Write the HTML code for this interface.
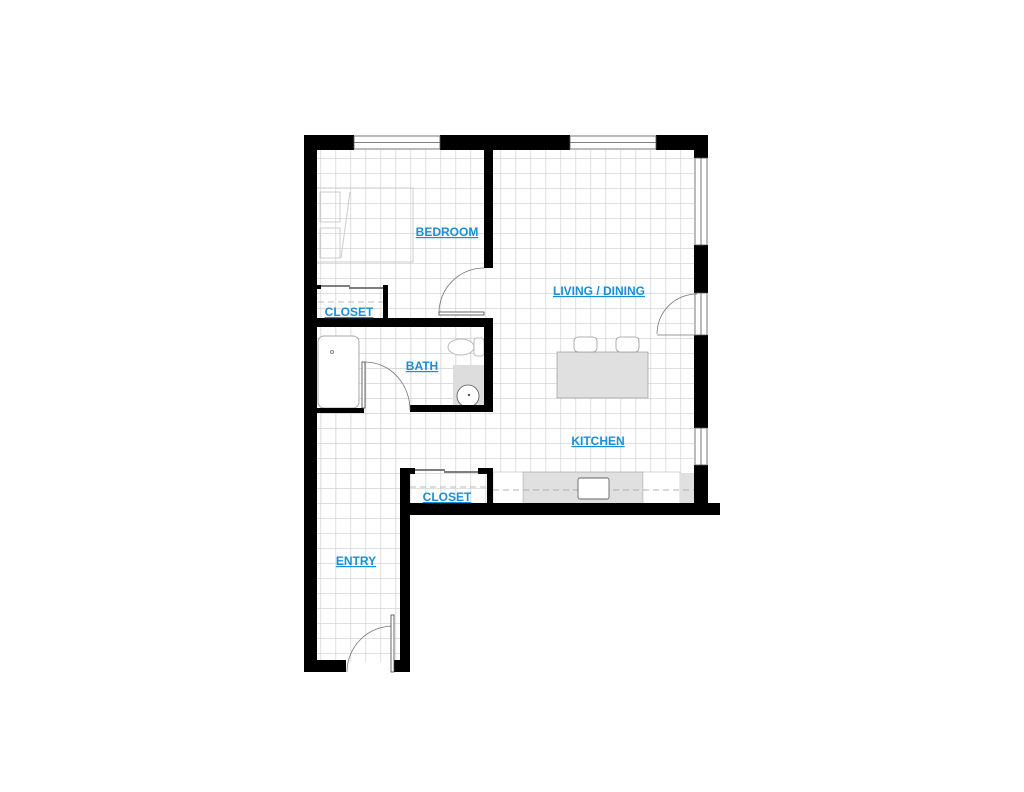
<!DOCTYPE html>
<html><head><style>
html,body{margin:0;padding:0;background:#fff;}
svg{display:block;}
.lbl{font-family:"Liberation Sans",sans-serif;font-weight:bold;font-size:12px;fill:#1a8fd6;text-anchor:middle;text-decoration:underline;}
</style></head><body>
<svg width="1024" height="792" viewBox="0 0 1024 792" xmlns="http://www.w3.org/2000/svg">
<defs>
<pattern id="g" x="320.5" y="8" width="15" height="15" patternUnits="userSpaceOnUse">
<path d="M0 0V15M0 0H15" stroke="#cdcdcd" stroke-width="1.3" fill="none"/>
</pattern>
</defs>
<rect x="317" y="150" width="377" height="354" fill="url(#g)"/>
<rect x="317" y="412" width="84" height="250" fill="url(#g)"/>
<rect x="317" y="330" width="176" height="82" fill="url(#g)"/>

<rect x="315" y="188" width="98" height="74" fill="none" stroke="#cccccc" stroke-width="1"/>
<rect x="320" y="192" width="20" height="30" fill="none" stroke="#cccccc"/>
<rect x="320" y="228" width="20" height="30" fill="none" stroke="#cccccc"/>
<line x1="350" y1="192" x2="341" y2="258" stroke="#cccccc"/>

<rect x="557" y="352" width="91" height="46" fill="#e0e0e0" stroke="#999" stroke-width="0.7"/>
<rect x="574" y="337" width="23" height="15" rx="4" fill="#fff" stroke="#999" stroke-width="0.8"/>
<rect x="616" y="337" width="23" height="15" rx="4" fill="#fff" stroke="#999" stroke-width="0.8"/>

<rect x="523" y="472" width="120" height="32" fill="#e0e0e0" stroke="#999" stroke-width="0.6"/>
<rect x="493" y="472" width="30" height="32" fill="#fff" stroke="#bbb" stroke-width="0.6"/>
<rect x="643" y="472" width="37" height="32" fill="#fff" stroke="#bbb" stroke-width="0.6"/>
<rect x="680" y="473" width="14" height="31" fill="#e0e0e0"/>
<line x1="493" y1="490" x2="694" y2="490" stroke="#999" stroke-dasharray="6,4" stroke-width="0.7"/>
<rect x="578" y="478" width="31" height="21" rx="2" fill="#fff" stroke="#666" stroke-width="0.9"/>

<rect x="318" y="336" width="41" height="72" rx="6" fill="#fff" stroke="#aaa"/>
<circle cx="332" cy="352" r="1.5" fill="none" stroke="#888"/>
<ellipse cx="461" cy="347" rx="13" ry="8" fill="#fff" stroke="#bbb"/>
<rect x="474" y="338" width="10" height="18" rx="3" fill="#fff" stroke="#bbb"/>
<rect x="453" y="365" width="31" height="45" fill="#ddd"/>
<circle cx="468" cy="396" r="11" fill="#fff" stroke="#555" stroke-width="0.8"/>
<circle cx="469" cy="395" r="1.2" fill="#555"/>

<g fill="#000">
<rect x="304" y="135" width="50" height="15"/>
<rect x="440" y="135" width="130" height="15"/>
<rect x="656" y="135" width="52" height="15"/>
<rect x="694" y="135" width="14" height="23"/>
<rect x="304" y="135" width="13" height="537"/>
<rect x="484" y="150" width="9" height="118"/>
<rect x="304" y="318" width="189" height="9"/>
<rect x="304" y="327" width="13" height="3"/>
<rect x="383" y="285" width="5" height="33"/>
<rect x="317" y="285" width="4" height="4"/>
<rect x="484" y="318" width="9" height="92"/>
<rect x="410" y="405" width="83" height="7"/>
<rect x="317" y="408" width="47" height="5"/>
<rect x="694" y="245" width="14" height="48"/>
<rect x="694" y="335" width="14" height="93"/>
<rect x="694" y="465" width="14" height="40"/>
<rect x="400" y="503" width="320" height="12"/>
<rect x="400" y="468" width="10" height="204"/>
<rect x="400" y="468" width="15" height="6"/>
<rect x="478" y="468" width="15" height="6"/>
<rect x="487" y="468" width="6" height="37"/>
<rect x="304" y="660" width="42" height="12"/>
<rect x="393" y="660" width="15" height="12"/>
</g>

<g fill="#fff" stroke="#555" stroke-width="0.8">
<rect x="354" y="136" width="86" height="13"/>
<line x1="354" y1="142.5" x2="440" y2="142.5"/>
<rect x="570" y="136" width="86" height="13"/>
<line x1="570" y1="142.5" x2="656" y2="142.5"/>
<rect x="695" y="158" width="12" height="87"/>
<line x1="701" y1="158" x2="701" y2="245"/>
<rect x="695" y="293" width="12" height="42"/>
<line x1="701" y1="293" x2="701" y2="335"/>
<rect x="695" y="428" width="12" height="37"/>
<line x1="701" y1="428" x2="701" y2="465"/>
</g>

<g stroke="#555" stroke-width="1.5">
<line x1="321" y1="286" x2="350" y2="286"/>
<line x1="349" y1="288" x2="383" y2="288"/>
<line x1="415" y1="470" x2="445" y2="470"/>
<line x1="444" y1="472" x2="478" y2="472"/>
</g>
<g stroke="#bbb" stroke-width="1" stroke-dasharray="6,4">
<line x1="318" y1="302" x2="383" y2="302"/>
<line x1="410" y1="487" x2="487" y2="487"/>
</g>

<g fill="none" stroke="#777" stroke-width="0.8">
<path d="M484 268 A45 45 0 0 0 439 313"/>
<path d="M365 362 A45 48 0 0 1 410 410"/>
<path d="M393 626 A46 46 0 0 0 347 672"/>
<path d="M697 294 A40 40 0 0 0 657 334"/>
<line x1="657" y1="335" x2="697" y2="335"/>
</g>
<g fill="#fff" stroke="#444" stroke-width="0.8">
<rect x="439" y="312" width="45" height="3"/>
<rect x="362" y="362" width="3" height="46"/>
<rect x="391" y="615" width="3" height="57"/>
</g>

<text class="lbl" x="447" y="236">BEDROOM</text>
<text class="lbl" x="349" y="316">CLOSET</text>
<text class="lbl" x="422" y="370">BATH</text>
<text class="lbl" x="599" y="295">LIVING / DINING</text>
<text class="lbl" x="598" y="445">KITCHEN</text>
<text class="lbl" x="447" y="501">CLOSET</text>
<text class="lbl" x="356" y="565">ENTRY</text>
</svg>
</body></html>
